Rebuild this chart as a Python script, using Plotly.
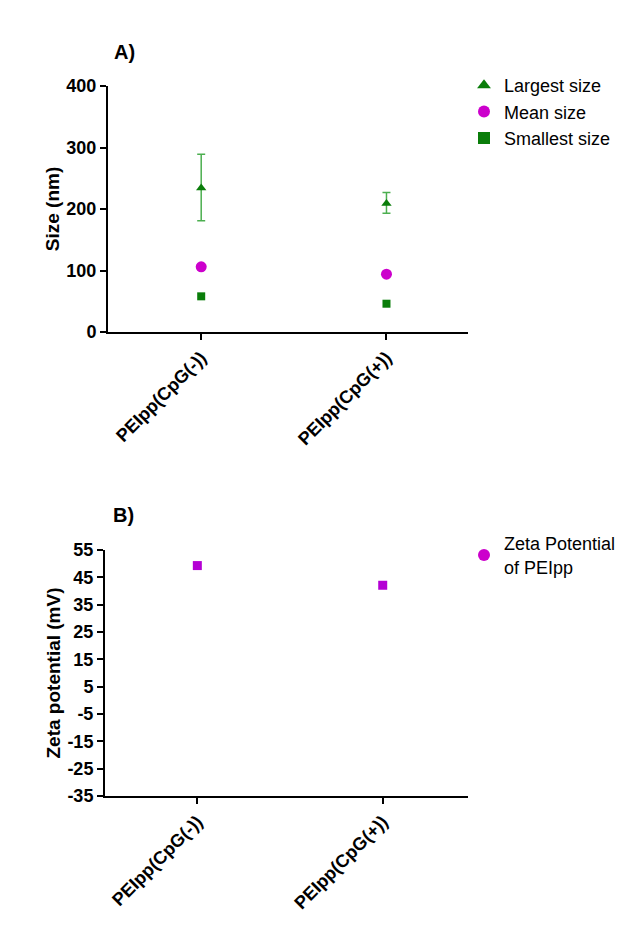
import plotly.graph_objects as go

W, H = 644, 933

categories = ["PEIpp(CpG(-))", "PEIpp(CpG(+))"]
largest = [234, 209]
largest_err_plus = [55, 18]
largest_err_minus = [53, 16]
mean_size = [106, 94]
smallest = [58, 46]
zeta = [49.3, 42.1]

size_ticks = [0, 100, 200, 300, 400]
zeta_ticks = [-35, -25, -15, -5, 5, 15, 25, 35, 45, 55]
zeta_tick_labels = ["-35", "-25", "-15", "-5", "5", "15", "25", "35", "45", "55"]

GREEN = "#0a7d0a"
EBGREEN = "#4caf50"
MAG = "#cc00cc"
PURP = "#b400d4"
FONT = "Liberation Sans, Arial, sans-serif"

fig = go.Figure()

fig.add_trace(go.Scatter(
    x=categories, y=largest, mode="markers", name="Largest size", legendgroup="a",
    marker=dict(symbol="triangle-up", size=9, color=GREEN),
    error_y=dict(type="data", symmetric=False, array=largest_err_plus,
                 arrayminus=largest_err_minus, color=EBGREEN, thickness=1.5, width=4),
    xaxis="x", yaxis="y", legend="legend"))
fig.add_trace(go.Scatter(
    x=categories, y=mean_size, mode="markers", name="Mean size", legendgroup="b",
    marker=dict(symbol="circle", size=11, color=MAG),
    xaxis="x", yaxis="y", legend="legend"))
fig.add_trace(go.Scatter(
    x=categories, y=smallest, mode="markers", name="Smallest size", legendgroup="c",
    marker=dict(symbol="square", size=8, color=GREEN),
    xaxis="x", yaxis="y", legend="legend"))

fig.add_trace(go.Scatter(
    x=categories, y=zeta, mode="markers", name="Zeta Potential<br>of PEIpp",
    marker=dict(symbol="square", size=9, color=PURP),
    xaxis="x2", yaxis="y2", showlegend=False))
fig.add_trace(go.Scatter(
    x=[None], y=[None], mode="markers", name="Zeta Potential<br>of PEIpp",
    marker=dict(symbol="circle", size=11, color=MAG),
    xaxis="x2", yaxis="y2", legend="legend2"))

def px(x):
    return x / W

def py(y):
    return 1 - y / H

axis_common = dict(showline=True, linecolor="black", linewidth=2, ticks="outside",
                   ticklen=6, tickwidth=2, tickcolor="black", showgrid=False,
                   zeroline=False, mirror=False, automargin=False)

TICKF = dict(size=18, family=FONT, weight="bold")
TITLEF = dict(size=19, family=FONT, weight="bold")

fig.update_layout(
    template="none",
    width=W, height=H, margin=dict(l=0, r=0, t=0, b=0, pad=0, autoexpand=False),
    paper_bgcolor="white", plot_bgcolor="white",
    font=dict(family=FONT, color="black"),
    xaxis=dict(domain=[px(108), px(468)], anchor="y", type="category",
               range=[-0.503, 1.44], tickangle=-45, tickfont=TICKF, **axis_common),
    yaxis=dict(domain=[py(332), py(86)], anchor="x", range=[0, 400],
               tickvals=size_ticks, tickfont=TICKF,
               title=dict(text="Size (nm)", font=TITLEF, standoff=2), **axis_common),
    xaxis2=dict(domain=[px(105), px(468)], anchor="y2", type="category",
                range=[-0.498, 1.46], tickangle=-45, tickfont=TICKF, **axis_common),
    yaxis2=dict(domain=[py(796), py(550)], anchor="x2", range=[-35, 55],
                tickvals=zeta_ticks, ticktext=zeta_tick_labels, tickfont=TICKF,
                title=dict(text="Zeta potential (mV)", font=TITLEF, standoff=2), **axis_common),
    legend=dict(x=px(464), y=py(67), xanchor="left", yanchor="top",
                font=dict(size=18, family=FONT), tracegroupgap=0, itemsizing="constant",
                bgcolor="rgba(0,0,0,0)", borderwidth=0),
    legend2=dict(x=px(464), y=py(525), xanchor="left", yanchor="top",
                 font=dict(size=18, family=FONT), itemsizing="constant",
                 bgcolor="rgba(0,0,0,0)", borderwidth=0),
    annotations=[
        dict(text="A)", x=px(112), y=py(52), xref="paper", yref="paper",
             xanchor="left", yanchor="middle", showarrow=False,
             font=dict(size=20, family=FONT, weight="bold")),
        dict(text="B)", x=px(111), y=py(515), xref="paper", yref="paper",
             xanchor="left", yanchor="middle", showarrow=False,
             font=dict(size=20, family=FONT, weight="bold")),
    ],
)

fig.write_html("out.html", post_script="document.body.style.margin='0';document.body.style.overflow='hidden';")
